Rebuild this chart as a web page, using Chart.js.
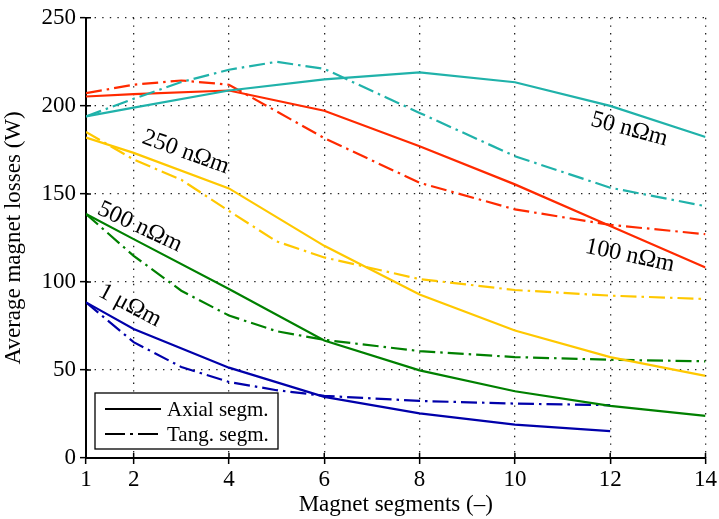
<!DOCTYPE html>
<html>
<head>
<meta charset="utf-8">
<script src="https://cdn.jsdelivr.net/npm/chart.js@4/dist/chart.umd.min.js"></script>
<style>
  html, body { margin: 0; padding: 0; background: #fff; }
  #wrap { width: 719px; height: 519px; }
</style>
</head>
<body>
<div id="wrap"><canvas id="losses"></canvas></div>
<script>
// magnet segment counts where values were read
const segs = [1, 2, 3, 4, 5, 6, 8, 10, 12, 14];
const xTicks = [1, 2, 4, 6, 8, 10, 12, 14];

// average magnet losses (W), axial = solid, tangential = dash-dot
const axial50 = [194, 199, null, 208.7, null, 215, 219, 213.4, 200, 182.3];
const tang50 = [194, 204, 213.5, 220.5, 225, 221, 196, 171.4, 153.5, 143];
const axial100 = [205.3, 206.6, null, 208.7, null, 197.2, 177, 155.4, 131.8, 108.2];
const tang100 = [207.2, 212, 214.4, 212, null, 181.7, 156.3, 141.2, 132.4, 127.1];
const axial250 = [182, 173.3, null, 153.1, null, 120.5, 92.8, 72.4, 57.3, 46.6];
const tang250 = [185.1, 169.5, 158, 140.3, 123, 113.9, 101.6, 95.4, 92.2, 90.3];
const axial500 = [138.6, 124.3, null, 96, null, 66.7, 49.8, 37.9, 29.6, 23.9];
const tang500 = [138.6, 114.8, 95, 80.9, 72, 67.1, 60.7, 57.3, 55.8, 54.9];
const axial1u = [88.4, 73.3, null, 51.3, null, 34.7, 25.3, 19, 15.3, null];
const tang1u = [88.4, 65.8, 51.7, 43.2, 38.5, 35.3, 32.4, 30.9, 30, null];

const SERIF = "'Liberation Serif', 'DejaVu Serif', serif";
const DASHDOT = [16, 5, 2.5, 5];

const curveLabels = [
  { text: '50 nΩm', x: 12.4, y: 186.6, angle: 15 },
  { text: '100 nΩm', x: 12.41, y: 114.8, angle: 12 },
  { text: '250 nΩm', x: 3.09, y: 173.6, angle: 20 },
  { text: '500 nΩm', x: 2.13, y: 131.2, angle: 25 },
  { text: '1 μΩm', x: 1.92, y: 86.5, angle: 28 }
];

function pts(ys) {
  return segs.map((x, i) => ({ x: x, y: ys[i] }));
}

function series(ys, color, tang) {
  return {
    data: pts(ys),
    borderColor: color,
    borderWidth: 2.2,
    borderDash: tang ? DASHDOT : [],
    pointRadius: 0,
    tension: 0,
    spanGaps: true,
    fill: false
  };
}

// short inward tick marks on both axes
const innerTicks = {
  id: 'innerTicks',
  afterDatasetsDraw(chart) {
    const {ctx, scales: {x, y}, chartArea: a} = chart;
    ctx.save();
    ctx.strokeStyle = '#000';
    ctx.lineWidth = 1.5;
    ctx.beginPath();
    xTicks.forEach(v => {
      const px = x.getPixelForValue(v);
      ctx.moveTo(px, a.bottom);
      ctx.lineTo(px, a.bottom - 5);
    });
    y.ticks.forEach(t => {
      const py = y.getPixelForValue(t.value);
      ctx.moveTo(a.left, py);
      ctx.lineTo(a.left + 5, py);
    });
    ctx.stroke();
    ctx.restore();
  }
};

// rotated resistivity labels next to the curves
const curveText = {
  id: 'curveText',
  afterDatasetsDraw(chart) {
    const {ctx, scales: {x, y}} = chart;
    ctx.save();
    ctx.fillStyle = '#000';
    ctx.font = '24px ' + SERIF;
    ctx.textAlign = 'center';
    ctx.textBaseline = 'middle';
    curveLabels.forEach(l => {
      ctx.save();
      ctx.translate(x.getPixelForValue(l.x), y.getPixelForValue(l.y));
      ctx.rotate(l.angle * Math.PI / 180);
      ctx.fillText(l.text, 0, 0);
      ctx.restore();
    });
    ctx.restore();
  }
};

// boxed legend in the lower-left corner
const boxLegend = {
  id: 'boxLegend',
  afterDatasetsDraw(chart) {
    const {ctx, chartArea: a} = chart;
    const bx = a.left + 9, by = a.bottom - 65, bw = 183, bh = 56;
    ctx.save();
    ctx.fillStyle = '#fff';
    ctx.fillRect(bx, by, bw, bh);
    ctx.strokeStyle = '#000';
    ctx.lineWidth = 1.3;
    ctx.strokeRect(bx, by, bw, bh);
    ctx.font = '21px ' + SERIF;
    ctx.fillStyle = '#000';
    ctx.textBaseline = 'middle';
    [['Axial segm.', []], ['Tang. segm.', [20, 5, 3, 5]]].forEach((row, i) => {
      const ly = by + 16 + i * 25;
      ctx.lineWidth = 2;
      ctx.setLineDash(row[1]);
      ctx.beginPath();
      ctx.moveTo(bx + 10, ly);
      ctx.lineTo(bx + 66, ly);
      ctx.stroke();
      ctx.setLineDash([]);
      ctx.fillText(row[0], bx + 72, ly + 1);
    });
    ctx.restore();
  }
};

new Chart('losses', {
  type: 'line',
  data: {
    datasets: [
      series(axial50, '#20b2aa', false),
      series(tang50, '#20b2aa', true),
      series(axial100, '#ff2a00', false),
      series(tang100, '#ff2a00', true),
      series(axial250, '#ffc800', false),
      series(tang250, '#ffc800', true),
      series(axial500, '#008000', false),
      series(tang500, '#008000', true),
      series(axial1u, '#0000aa', false),
      series(tang1u, '#0000aa', true)
    ]
  },
  options: {
    responsive: true,
    maintainAspectRatio: false,
    animation: false,
    layout: { padding: { top: 16, right: 11, left: 0, bottom: 0 } },
    plugins: {
      legend: { display: false },
      tooltip: { enabled: false }
    },
    scales: {
      x: {
        type: 'linear',
        min: 1,
        max: 14,
        afterBuildTicks: s => { s.ticks = xTicks.map(v => ({ value: v })); },
        afterFit: s => { s.height = 61; },
        ticks: {
          color: '#000',
          font: { family: SERIF, size: 23 },
          padding: 2,
          maxRotation: 0
        },
        grid: {
          color: '#222',
          lineWidth: 1.3,
          tickLength: 6,
          tickColor: '#000',
          tickWidth: 1.5
        },
        border: { display: true, color: '#000', width: 2, dash: [1.4, 6.2] },
        title: {
          display: true,
          text: 'Magnet segments (–)',
          color: '#000',
          font: { family: SERIF, size: 23 },
          padding: { top: 0, bottom: 0 }
        }
      },
      y: {
        min: 0,
        max: 250,
        afterFit: s => { s.width = 86; },
        ticks: {
          stepSize: 50,
          color: '#000',
          font: { family: SERIF, size: 23 },
          padding: 4
        },
        grid: {
          color: '#222',
          lineWidth: 1.3,
          tickLength: 6,
          tickColor: '#000',
          tickWidth: 1.5
        },
        border: { display: true, color: '#000', width: 2, dash: [1.4, 6.2] },
        title: {
          display: true,
          text: 'Average magnet losses (W)',
          color: '#000',
          font: { family: SERIF, size: 23 },
          padding: { top: 0, bottom: 0 }
        }
      }
    }
  },
  plugins: [innerTicks, curveText, boxLegend]
});
</script>
</body>
</html>
